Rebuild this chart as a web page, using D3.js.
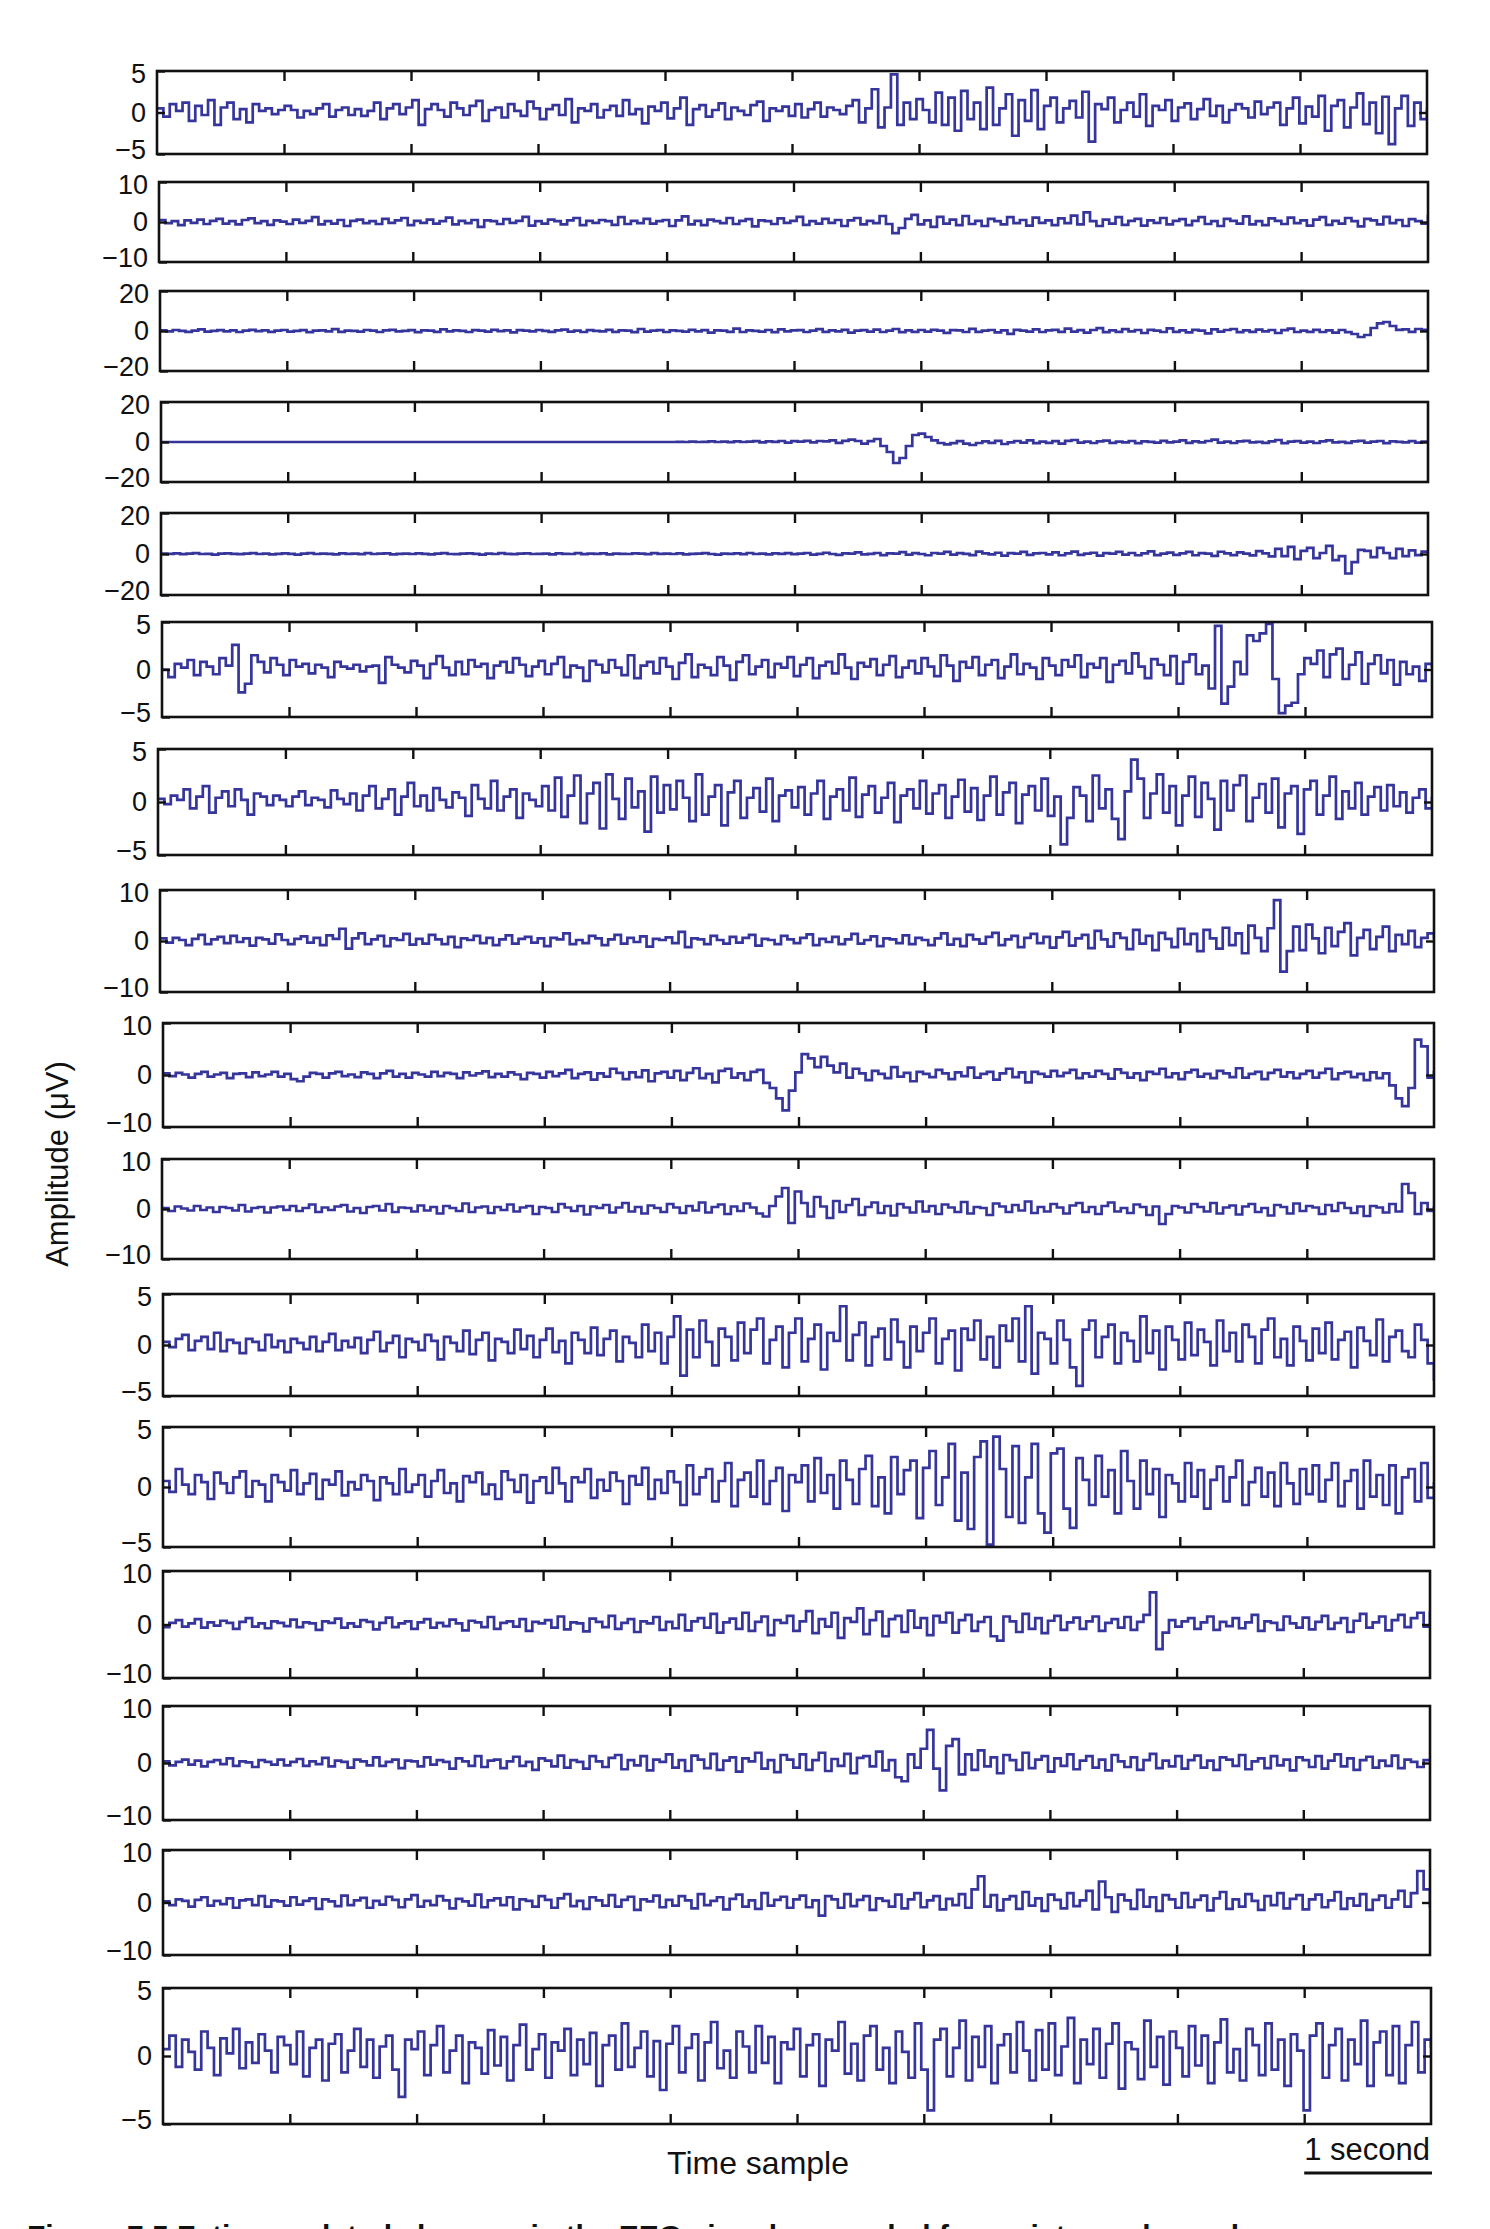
<!DOCTYPE html>
<html>
<head>
<meta charset="utf-8">
<script src="https://cdn.jsdelivr.net/npm/d3@7"></script>
<style>
  html, body { margin: 0; padding: 0; background: #ffffff; overflow: hidden; }
  svg { display: block; }
  text { font-family: "Liberation Sans", Arial, Helvetica, sans-serif; fill: #111; }
</style>
</head>
<body>
<script>
// ---------------- DATA ----------------
const seconds = 10;
const yLimits = [5, 10, 20, 20, 20, 5, 5, 10, 10, 10, 5, 5, 10, 10, 10, 5];
const xTickSeconds = [1, 2, 3, 4, 5, 6, 7, 8, 9];
const yAxisTitle = "Amplitude (\u03BCV)";
const xAxisTitle = "Time sample";
const scaleBarLabel = "1 second";
const captionText = "Figure 7.5   Fatigue-related changes in the EEG signals recorded from sixteen channels";

const ch01 = [0.5,-0.5,1,0.2,1.2,-1,0.8,-0.3,1.5,-1.5,0.6,1.2,-0.8,0.4,-1.2,1,0.2,0.5,-0.2,0.3,
0.8,0.3,-0.6,0.2,-0.2,0.5,1,-0.5,0.3,0.6,-0.3,0.4,-0.4,0.2,1.2,-0.8,0.5,1,-0.2,0.6,
1.5,-1.5,0.4,1,0.3,-0.5,1.2,0.5,-0.3,0.8,1.4,-1,0.3,0.6,-0.6,1,0.2,-0.4,1.3,0.5,
-0.8,0.4,0.9,-0.3,1.6,-1.2,0.5,0.2,1,-0.6,0.3,0.8,-0.4,1.5,-0.2,0.4,-1.3,0.7,0.2,1.2,
-0.7,0.5,1.8,-1.5,0.4,0.9,-0.5,0.3,1.1,-0.8,0.6,0.2,-0.3,0.9,1.3,-1,0.5,0.2,0.7,-0.4,
1,-0.6,0.4,1.2,-0.5,0.6,0.3,-0.2,0.8,1.5,-1.2,0.5,2.8,-1.8,0.6,4.6,-1.5,1.2,-0.8,1.6,
0.3,-1.2,2.4,-1.5,1.8,-2.2,2.6,-0.8,1.2,-2,3,-1.5,0.5,2.2,-2.8,1.5,-1,2.7,-2,0.8,
1.8,-1.2,0.5,1.4,-0.6,2.5,-3.5,1,0.4,1.8,-1.2,0.3,1.2,-0.5,2.2,-1.6,0.8,0.3,1.5,-1,
0.6,1.1,-0.8,0.4,1.6,-0.4,0.8,-1.2,0.3,1,0.5,-0.6,1.3,-0.2,0.6,1.2,-1.5,0.5,1.8,-1.3,
0.7,-0.5,2,-2.2,0.8,1.5,-1.8,0.6,2.3,-1.4,1.2,-2.5,1.9,-3.8,0.5,2,-1.6,1.2,-0.8,0.4];

const ch02 = [0.5,-0.3,0.2,-0.8,0.4,-0.2,0.6,-0.5,0.3,0.8,-0.4,0.2,-0.6,0.5,0.9,-0.3,0.2,-0.7,0.4,0.1,
-0.5,0.6,-0.2,0.3,1.2,-0.6,0.2,-0.4,0.5,-1,0.3,0.6,-0.3,0.2,-0.5,0.8,-0.2,0.4,1,-0.8,
0.3,-0.2,0.6,-0.4,0.2,1.1,-0.6,0.3,-0.3,0.5,-1.2,0.4,0.2,-0.5,0.7,-0.2,0.3,1.3,-0.9,0.2,
-0.4,0.6,0.2,-0.6,0.4,1,-0.8,0.3,-0.2,0.5,0.2,-0.7,1.2,-0.5,0.3,-0.3,0.8,-0.4,0.2,0.5,
-1,0.4,1.4,-0.6,0.3,-0.8,0.6,0.2,-0.3,1,-0.5,0.3,0.7,-1.1,0.4,0.2,-0.5,0.9,-0.2,0.3,
1.3,-0.7,0.2,-0.4,0.8,-0.2,0.5,-1,0.4,1,-0.6,0.3,-0.3,1.5,-0.5,-2.8,-1.5,0.8,1.8,-0.6,
0.4,-1.2,1.3,-0.4,0.6,-0.8,1.5,-0.5,0.3,-1,0.8,0.2,-0.6,1.2,-0.3,0.5,-0.9,1.1,-0.2,0.4,
-0.8,0.9,-0.3,1.6,-0.6,2.4,0.2,-1,0.6,-0.4,1.2,-0.7,0.3,0.8,-0.9,0.4,-0.2,1,-0.6,0.3,
0.7,-0.8,0.3,1.2,-0.5,0.2,-1,0.8,0.3,-0.4,1.4,-0.6,0.2,-0.8,0.9,0.3,-0.5,1.1,-0.3,0.4,
-0.9,0.6,1.2,-0.7,0.3,-0.4,1,0.2,-1.1,0.8,0.4,-0.6,1.3,-0.3,0.5,-1,0.7,0.2,-0.4,1.8];

const ch03 = [0.3,-0.2,0.5,0.1,-0.4,0.2,0.8,-0.3,0.1,0.4,-0.2,0.3,-0.5,0.2,0.6,-0.1,0.3,-0.4,0.2,0.5,
-0.3,0.1,0.4,-0.6,0.2,0.3,-0.2,0.9,-0.4,0.2,0.1,-0.3,0.5,0.2,-0.5,0.3,0.6,-0.2,0.1,0.4,
-0.6,0.3,0.2,-0.4,0.8,-0.2,0.3,0.1,-0.5,0.4,0.2,-0.3,0.6,-0.1,0.3,-0.7,0.4,0.2,-0.2,0.5,
0.1,-0.4,0.3,0.7,-0.3,0.2,-0.5,0.4,0.1,-0.2,0.6,-0.4,0.3,0.2,-0.6,1,-0.3,0.2,0.4,-0.5,
0.3,0.1,-0.3,0.6,-0.2,0.4,-0.8,0.3,0.2,-0.4,1.2,-0.5,0.3,0.1,-0.3,0.5,-0.6,0.8,-0.2,0.3,
0.4,-0.5,0.2,0.9,-0.4,0.3,-0.2,0.6,-0.8,0.2,0.4,-0.3,0.7,-0.5,0.2,1,-0.6,0.3,-0.4,0.5,
-0.3,0.6,0.2,-0.9,0.4,0.3,-0.5,1.1,-0.4,0.2,0.5,-0.7,0.3,-1.4,0.6,0.2,-0.3,0.8,-0.5,0.3,
0.6,-0.4,1.2,-0.3,0.4,-0.8,0.5,1.4,-0.6,0.3,-0.4,0.9,-0.2,0.5,-1,0.6,0.2,-0.5,1.3,-0.4,
0.3,-0.7,0.6,0.2,-1.2,0.8,-0.3,0.5,1,-0.6,0.3,-0.4,0.7,-0.2,0.5,-1,0.4,1.2,-0.5,0.2,
-0.4,0.6,-0.5,0.3,-0.8,0.5,-0.6,-1.5,-3,-2,1.5,3.8,4.5,2.5,0.6,0.8,-0.4,1,0.6,-4.5];

const ch04 = [0,0,0,0,0,0,0,0,0,0,0,0,0,0,0,0,0,0,0,0,
0,0,0,0,0,0,0,0,0,0,0,0,0,0,0,0,0,0,0,0,
0,0,0,0,0,0,0,0,0,0,0,0,0,0,0,0,0,0,0,0,
0,0,0,0,0,0,0,0,0,0,0,0,0,0,0,0,0,0,0,0,
0,0.1,0,0.2,0,0.1,0.3,0,0.2,-0.1,0.3,0,0.2,0.4,-0.2,0.3,0.1,0.5,-0.3,0.4,
0.2,0.6,-0.2,0.5,0.3,0.8,-0.4,0.6,1.2,0.5,-0.8,0.4,1.5,-2,-5,-10.5,-8,-2,3.5,4.2,
2.5,0.8,-0.5,-1.2,-0.6,0.4,-0.8,-1.5,-0.5,0.3,-0.4,0.6,-1,-0.2,0.5,-0.3,0.8,-0.6,0.2,-0.4,
0.4,-0.8,0.6,1,-0.3,0.2,-0.5,0.3,0.7,-0.4,0.2,-0.2,0.5,-0.6,0.3,0.1,-0.3,0.6,-0.2,0.2,
0.8,-0.4,0.3,-0.2,0.5,1.2,-0.3,0.2,-0.5,0.3,0.6,-0.2,0.1,-0.4,0.3,1,-0.6,0.2,0.4,-0.3,
0.2,-0.5,0.3,0.8,-0.2,0.1,-0.4,0.3,0.6,-0.3,0.2,0.5,-0.6,0.3,0.1,-0.2,0.4,-0.3,0.2,0.3];

const ch05 = [0.2,0.1,0.3,-0.1,0.2,0.4,0,0.1,-0.3,0.2,0.3,0.1,-0.1,0.2,0.4,0,0.2,-0.2,0.1,0.3,
0.1,-0.3,0.2,0.4,0,0.2,0.1,-0.2,0.3,0.1,0.2,-0.1,0.4,0,0.2,0.3,-0.2,0.1,0.2,0,
0.3,0.1,-0.2,0.2,0.4,0,-0.1,0.2,0.3,0.1,-0.3,0.2,0,0.4,0.1,-0.1,0.2,0.3,0,0.1,
0.2,-0.2,0.3,0.1,0,0.4,-0.1,0.2,0.1,0.3,-0.2,0.2,0.1,0,0.3,0.2,-0.1,0.4,0.1,0.2,
0,0.3,-0.2,0.1,0.2,0.4,0,-0.3,0.2,0.1,0.3,-0.1,0.5,0,0.2,-0.2,0.3,0.1,0.4,-0.1,
0.2,0.5,-0.3,0.1,0.6,0,-0.4,0.3,0.2,0.8,-0.2,0.1,0.5,-0.5,0.3,0.2,0.9,-0.3,0.4,0,
-0.6,0.5,0.2,1,-0.3,0.4,0.1,-0.5,1.2,0.3,-0.2,0.6,-0.8,0.4,0.2,1,-0.4,0.3,0.5,-0.2,
0.8,-0.6,0.3,1.2,-0.4,0.2,0.6,-0.8,0.4,0.2,1,-0.3,0.5,-0.6,0.3,1.3,-0.5,0.2,0.7,-0.4,
0.3,1,-0.6,0.4,0.2,-0.9,1.1,0.3,-0.5,0.8,0.2,-0.7,1.4,0.3,-1.2,2.5,-1,3.5,-2.5,1.5,
3,-2,0.5,4,-3,-1,-9.5,-4,2,1.5,-1.5,3,0.5,-2,2.5,-1,1.8,-0.5,1.2,0.6];

const ch06 = [0,-0.8,0.6,0.2,1,-0.6,0.8,0.3,-0.5,1.2,0.4,2.6,-2.4,-1.5,1.5,0.8,-0.3,1.2,0.5,-0.6,
1,0.3,0.6,-0.4,0.5,0.2,-0.8,0.8,0.3,0.1,0.5,-0.2,0.3,0.4,-1.4,1.3,0.5,0.2,-0.3,0.9,
0.4,-0.9,0.6,1.4,0.2,-0.6,0.8,-0.5,1,0.3,0.6,-0.9,0.4,0.8,-0.3,1.2,0.5,-0.7,0.3,0.9,
-0.5,0.6,1.3,-0.8,0.4,0.2,-1.2,0.9,0.5,-0.3,1,0.2,-0.6,1.5,-0.9,0.4,0.8,-0.4,1.2,0.3,
-1,0.7,1.6,-0.8,0.5,0.2,-0.6,1.3,0.4,-1.1,0.8,1.5,-0.5,0.3,1,-0.8,0.6,0.2,1.3,-0.7,
0.5,1.2,-0.9,0.4,0.8,-0.4,1.6,0.2,-1,0.7,0.3,1.1,-0.6,0.5,1.4,-0.8,0.2,0.9,-0.4,1.2,
0.3,-0.7,1.5,0.4,-1.2,0.8,0.2,1.3,-0.6,0.5,1,-0.9,0.3,1.6,-0.5,0.6,0.2,-1,1.2,0.4,
-0.6,1,0.3,1.5,-0.8,0.6,0.2,1.2,-1.3,0.5,0.9,-0.4,1.7,0.3,-0.9,1.1,0.5,-0.6,1.4,-1.5,
0.8,1.6,-0.5,0.4,-2,4.6,-3.6,-1.8,0.8,-0.5,3.6,3,3.8,4.8,-1,-4.6,-3.8,-3.5,-0.5,1.2,
0.6,2,-0.8,1.6,2.2,-1,0.5,1.8,-1.5,0.6,1.5,-0.4,1,-1.6,0.8,-0.5,0.3,-1.2,0.6,0.2];

const ch07 = [0.3,-0.2,0.6,0.2,1.2,-0.6,0.5,1.5,-1,0.4,1,-0.4,1.2,0.2,-1.2,0.8,0.5,-0.3,0.6,0.2,
-0.4,0.5,1,-0.3,0.4,0.2,-0.5,1.1,0.3,-0.2,0.8,-0.8,0.6,1.5,-0.6,0.3,1.2,-1.2,0.5,1.8,
-0.4,0.6,-0.8,1.3,0.2,-0.5,0.9,0.4,-1.3,1.6,0.3,-0.6,2,-0.8,0.5,1.2,-1.5,0.8,0.2,-0.4,
1.5,-0.8,2.3,-1.4,0.6,2.5,-2,0.8,1.8,-2.5,2.6,0.3,-1.6,2.2,-0.5,1,-2.8,2.4,-1,1.6,
-0.7,2,0.4,-1.8,2.6,-1.2,0.5,1.6,-2.2,0.9,2,-1.5,0.4,1.3,-0.9,2.2,-1.8,0.6,1.1,-0.5,
1.4,-1.2,0.8,2,-1.6,0.5,1.2,-0.8,2.3,-1.4,0.7,1.5,-1,0.4,1.8,-1.9,0.6,1.2,-0.6,2,
-1.1,0.8,1.6,-1.5,0.5,2.1,-0.9,1.3,-1.7,0.6,2.4,-1.2,0.9,1.8,-2,0.7,1.5,-0.8,2.2,-1.3,
0.5,-4,-1.5,1.4,0.6,-1.8,2.5,-0.6,1.2,-1.6,-3.5,1,4,2.2,-1.5,0.8,2.6,-1,1.5,-2.2,
0.6,2.4,-1.4,1.8,0.3,-2.6,2,-0.8,1.6,2.5,-1.8,0.4,1.7,-1,2.2,-2.4,0.8,1.5,-3,1.2,
2,-1.2,0.6,2.4,-1.6,1,-0.6,1.8,-1.2,0.5,1.4,-0.8,1.6,-0.4,0.9,-1,0.4,1.2,-0.6,0.5];

const ch08 = [0.5,-0.3,0.6,0.2,-0.8,0.4,1.2,-0.6,0.3,0.8,-0.4,1,-0.2,0.5,-0.9,0.6,0.3,-0.5,1.3,0.2,
-0.6,0.4,0.9,-0.3,0.6,-0.8,1.1,0.4,2.4,-1.5,0.5,1.5,-0.6,0.3,1,-1,0.5,0.2,1.4,-0.7,
0.4,-0.5,1.2,0.3,-0.6,0.8,-1.2,0.5,0.2,1,-0.4,0.6,-0.8,0.3,1.1,-0.5,0.4,0.8,-0.3,0.5,
-1,0.6,0.3,1.5,-0.6,0.2,-0.4,1,0.5,-0.8,0.3,1.2,-0.5,0.6,-0.2,0.9,-1.1,0.4,0.2,0.7,
-0.4,1.8,-1.2,0.5,0.3,-0.6,1,0.2,-0.5,0.8,-0.3,0.6,1.2,-0.9,0.4,0.2,-0.6,1,0.3,-0.4,
0.6,1.3,-0.8,0.4,-0.2,0.8,-0.6,0.3,1.4,-0.5,0.2,0.9,-1,0.5,0.3,-0.4,1.1,-0.6,0.6,0.2,
-0.8,0.5,1.5,-0.7,0.4,-1,1.2,0.3,-0.5,0.8,1.6,-0.8,0.3,1,-1.2,0.6,1.4,-0.4,0.8,-1.3,
0.7,1.8,-0.9,0.5,1.2,-1.4,2,0.3,-1.1,1.5,0.6,-1.6,2.2,-0.5,1,-1.8,1.6,0.4,-1.2,2.4,
-0.6,1.4,-2,2.2,0.5,-1.5,2.6,-0.8,1.5,-2.4,3,0.6,-2,2.5,8,-6,-2,2.8,-1.8,3.2,
0.5,-2.4,2.6,-1,1.8,3.5,-2.8,0.6,2.2,-1.6,0.8,2.8,-2,1.2,-0.6,2,-1.2,0.6,1.5,0.4];

const ch09 = [0.3,-0.2,0.4,0.1,-0.5,0.2,0.6,-0.3,0.1,0.4,-0.6,0.2,0.3,-0.4,0.5,-0.2,0.1,0.6,-0.3,0.2,
-0.8,-1.2,-0.3,0.4,0.2,-0.5,0.3,0.6,-0.2,0.1,-0.4,0.5,0.2,-0.6,0.3,0.8,-0.3,0.2,-0.5,0.4,
0.1,-0.3,0.6,-0.2,0.4,0.2,-0.6,0.5,-0.1,0.3,0.7,-0.4,0.2,-0.3,0.5,0.1,-0.8,0.4,0.2,-0.5,
0.6,-0.2,0.3,1,-0.6,0.2,0.5,-0.9,0.3,-0.3,1.2,0.4,-0.8,0.5,-0.4,0.9,-1.2,0.3,0.6,-0.5,
0.8,-1,0.4,1.3,-0.6,0.2,-1.4,0.8,1.2,-0.5,0.3,-1,0.6,1,-1.5,-2.5,-4.5,-6.8,-3,0.5,
4,3.2,1.5,3.5,1.8,0.5,2.2,-0.5,1.2,0.3,-1,0.8,0.2,-0.6,1.5,-0.3,0.4,-1.2,0.6,0.2,
-0.4,1,0.3,-0.8,0.5,-0.2,1.4,-0.5,0.2,0.6,-0.9,0.3,1.2,-0.4,0.5,-1.4,0.6,0.2,-0.3,0.8,
-0.2,0.4,1,-0.6,0.3,-0.3,0.8,0.2,-0.7,1.1,0.4,-0.5,0.3,-1,0.6,0.2,1.2,-0.4,0.3,-0.8,
0.5,1,-0.3,0.2,-0.6,0.8,0.3,-0.4,1.3,-0.5,0.2,0.6,-0.8,0.4,1,-0.3,0.5,-0.6,0.2,0.8,
-0.5,0.4,1.2,-0.8,0.3,0.6,-0.4,0.2,-1,0.5,-0.6,0.3,-2,-4.5,-6,-2.5,6.8,5.5,-0.5,0.8];

const ch10 = [0.2,-0.4,0.5,0.1,-0.3,0.6,-0.2,0.3,-0.6,0.4,0.2,-0.3,0.8,-0.5,0.2,0.4,-0.7,0.3,0.5,-0.2,
0.6,-0.4,0.2,0.9,-0.6,0.3,-0.2,0.5,0.8,-0.5,0.2,-0.8,0.4,0.6,-0.3,1,-0.6,0.3,0.2,-0.5,
0.7,-0.3,0.4,-0.9,0.6,0.2,-0.4,1.1,-0.6,0.3,0.5,-0.8,0.4,-0.2,0.9,-0.5,0.3,0.6,-1,0.4,
0.2,-0.6,1,0.3,-0.4,0.6,-1.1,0.5,0.2,0.8,-0.7,0.3,1.2,-0.5,0.4,-0.9,0.7,0.2,-0.6,1,
0.3,-0.8,0.6,-0.3,1.3,-0.7,0.4,0.9,-1,0.5,-0.4,1.1,0.3,-0.9,-1.5,0.6,2.5,4.2,-2.8,3.5,
1.2,-1.5,2.4,0.5,-1.8,1.6,-0.6,0.8,2,-1.2,0.4,1.3,-0.8,0.6,-1.3,1,0.3,-0.7,1.5,-0.5,
0.6,-1,0.9,0.3,-0.6,1.4,-0.9,0.4,0.2,-1.2,1.1,0.5,-0.6,0.8,-0.3,1.5,-0.8,0.4,-0.5,1,
0.3,-0.9,0.7,1.2,-0.6,0.4,-1,0.6,1.3,-0.5,0.2,-0.8,0.9,0.4,-1.2,0.5,-3,-1,0.6,0.3,
-0.7,1,0.4,-0.5,1.2,-0.9,0.3,0.7,-1.1,0.5,1,-0.6,0.2,-1.3,0.8,0.4,-0.9,1.1,-0.4,0.6,
0.3,-1,0.8,-0.4,1.2,0.2,-0.8,0.5,-1.4,0.6,0.3,-0.7,1,-0.5,5,3.2,-1,1.2,-0.4,0.6];

const ch11 = [0.3,-0.2,0.6,1,-0.5,0.4,0.8,-0.4,1.2,-0.6,0.5,0.2,-0.8,0.6,0.3,-0.5,1,-0.2,0.4,-0.7,
0.6,0.2,-0.4,0.8,-0.6,0.3,1.1,-0.5,0.4,-0.2,0.7,-0.8,0.5,1.3,-0.6,0.2,0.9,-1.2,0.6,0.3,
-0.5,1,0.4,-1.4,0.8,0.2,-0.6,1.4,-0.9,0.5,1.2,-1.5,0.6,0.3,-0.8,1.5,-0.4,0.9,-1.2,0.5,
1.6,-0.7,0.4,-1.8,1.2,0.5,-0.8,1.7,-1,0.6,1.4,-1.6,0.8,0.2,-1.2,2,-0.6,1.2,-1.8,0.8,
2.8,-3,1.5,-1.2,2.4,0.3,-2,1.6,0.8,-1.5,2.2,-0.8,1.5,2.6,-1.8,0.5,1.8,-2.2,1.2,2.6,
-1.6,0.6,2,-2.4,1.2,0.4,3.8,-1.5,1,2.2,-2,0.8,1.6,-1.4,2.5,0.3,-2.2,1.8,-0.6,1.2,
2.6,-1.8,0.6,1.4,-2.5,1.6,0.5,2.4,-1.4,0.8,-2.2,1.9,0.4,2.6,-1.6,3.8,-2.8,1.2,0.6,-1.8,
2.4,0.5,-2.2,-4,1.5,2.4,-1.2,0.8,2,-1.8,1.2,0.4,-1.6,2.8,-0.8,1.4,-2.4,1.8,0.5,-1.4,
2.2,-1,1.5,0.3,-2,2.4,-0.6,1.2,-1.6,2,0.8,-1.8,1.5,2.6,-1.2,0.6,-2,1.8,0.4,-1.5,
1.6,-0.8,2.2,-1.4,0.5,1.3,-2.2,1.7,0.4,-1,2.5,-1.6,0.8,1.4,-0.6,-1.2,2,0.5,-1.8,-3.5];

const ch12 = [0.5,-0.4,1.5,0.2,-0.6,1,0.4,-1,1.2,0.3,-0.5,0.8,1.3,-0.8,0.5,0.2,-1.2,1,0.4,-0.3,
1.4,-0.6,0.3,1.1,-1,0.6,0.2,1.3,-0.7,0.4,-0.2,1,0.5,-1.1,0.8,0.3,-0.6,1.5,-0.4,0.2,
1,-0.8,0.5,1.4,-0.5,0.3,-1.2,0.9,0.4,1.2,-0.6,0.2,-1,1.3,0.6,-0.4,1,-1.3,0.5,0.8,
-0.5,1.6,0.3,-1.2,0.8,0.4,1.5,-0.9,0.6,-0.3,1.2,0.5,-1.4,0.9,0.2,1.6,-1,0.6,-0.5,1.3,
0.4,-1.5,1.8,-0.6,0.8,1.5,-1.2,0.5,2,-1.6,0.6,1.2,-0.8,2.2,-1.4,0.5,1.6,-2,1,0.4,
1.8,-1.2,2.4,-0.5,1,-1.8,2.2,0.6,-1.4,1.5,2.6,-1.6,0.8,-2.2,2.5,-0.6,1.4,2.2,-2.6,1.6,
3,-1.5,0.8,3.6,-2.8,1.2,-3.5,2.5,3.8,-4.8,4.2,1.5,-2.5,3.4,-3,0.8,3.6,-2.2,-3.8,2.8,
3.2,-1.8,-3.4,2.4,0.6,-1.5,2.6,-0.8,1.4,-2.2,3,0.5,-1.8,2.2,-0.6,1.5,-2.5,1,0.3,-1.2,
2,-0.8,1.4,-1.8,0.6,1.7,-1.2,0.8,2.2,-1.5,0.4,1.6,-0.8,1.2,-1.6,2,0.3,-1.4,1.5,-0.6,
1.8,-1.2,0.6,2,-1.6,0.5,1.4,-1.8,2.2,-0.8,1,-1.5,1.8,-2.2,0.8,1.5,-1.2,2,-0.9,0.4];

const ch13 = [-0.5,0.3,0.8,-0.4,0.2,1,-0.6,0.4,-0.2,0.7,0.3,-0.8,0.5,1.2,-0.4,0.2,-0.7,0.6,0.3,-0.3,
0.9,-0.5,0.4,0.2,-1,0.6,0.3,1.1,-0.6,0.2,-0.4,0.8,0.5,-0.9,0.3,1.3,-0.5,0.2,0.6,-0.8,
0.4,1,-0.6,0.3,-0.3,0.9,0.2,-1.1,0.7,0.4,-0.5,1.4,-0.8,0.3,0.6,-0.4,1,-1.2,0.5,0.2,
0.8,-0.6,1.5,-0.9,0.4,0.2,-1.3,1.1,0.5,-0.5,1.6,-0.8,0.3,1,-1.4,0.6,0.2,1.4,-1,0.5,
-0.7,1.8,-1.1,0.6,1.2,-0.6,2,-1.5,0.4,1.1,-0.8,2.2,-1.2,0.5,1.5,-2,0.8,0.3,1.6,-1.2,
0.6,2.5,-1.6,1,-0.4,2.2,-2.5,1.2,0.5,3,-1.8,0.8,2.4,-2.2,1,1.6,-1.4,2.6,-0.6,1.2,
-2,1.6,0.4,2.2,-1.5,0.8,1.8,-1.2,0.5,1.4,-2.2,-3,1.5,0.6,-1.4,2,-0.8,1.2,-1.6,0.7,
1.6,-1,0.4,1.3,-0.8,0.6,1.5,-1.2,0.3,1,-0.6,1.4,-1,0.5,1.8,6,-4.6,-1.5,0.8,-0.4,
0.6,1.2,-0.8,0.4,1.5,-1,0.5,-0.3,1.2,-0.7,0.4,1.8,-1.2,0.6,0.3,-1,1.5,0.2,-0.6,1.3,
-0.9,0.5,1.6,-0.8,0.3,1.2,-1.4,0.7,2,-0.6,0.4,1.5,-1.1,0.8,1.8,-0.5,1.2,2.2,-0.4,2.5];

const ch14 = [0.3,-0.4,0.2,0.6,-0.3,0.4,-0.6,0.2,0.5,-0.2,0.8,-0.5,0.3,0.1,-0.7,0.5,0.2,-0.3,0.6,-0.4,
0.2,0.7,-0.5,0.3,-0.2,0.9,-0.6,0.4,0.2,-0.8,0.6,0.3,-0.4,1,-0.5,0.2,0.6,-0.9,0.4,0.3,
-0.6,1,-0.3,0.5,0.2,-1,0.8,0.3,-0.5,1.2,-0.7,0.4,0.6,-0.9,0.3,1.1,-0.5,0.2,-1.2,0.8,
0.4,-0.6,1.3,-0.8,0.5,0.2,-1,1.2,0.3,-0.7,0.9,1.4,-1.1,0.5,-0.4,1.2,-1.3,0.6,0.2,1.5,
-0.8,0.5,-1.4,1.3,0.6,-0.9,1.6,-1.2,0.4,1,-1.5,0.8,0.3,1.8,-1,0.5,-1.6,1.4,0.6,-0.8,
1.5,-1.2,0.5,1.8,-1.4,0.7,-0.5,1.6,-1.8,0.9,1.2,-0.6,2,-1.3,0.5,-2.5,-3.2,1.5,-0.8,2.5,
5.8,-1,-4.8,3,4.2,-2,1.5,-1.2,2.2,-0.6,1,-1.8,1.4,0.5,-1.2,1.8,-0.9,0.6,1.2,-1.5,
0.8,-0.5,1.5,-1.1,0.4,1.2,-0.8,0.6,-1.3,1.4,0.3,-0.7,1,-1.2,0.5,1.6,-0.9,0.4,-0.6,1.2,
-1,0.5,1.3,-0.8,0.4,-1.2,1,0.6,-0.5,1.4,-1.1,0.3,0.8,-0.9,1.2,-0.4,0.6,-1.3,1,0.5,
-0.7,1.2,-1,0.4,1.5,-0.6,0.8,-1.2,0.5,1.1,-0.8,0.4,-0.5,1.3,-0.9,0.6,0.2,-0.7,0.5,0.3];

const ch15 = [0.2,-0.5,0.6,0.3,-0.8,0.5,1,-0.6,0.3,-0.3,0.8,-1,0.4,0.6,-0.5,1.2,-0.8,0.4,0.2,-0.6,
1,-0.4,0.3,0.8,-1.2,0.6,0.2,-0.7,1.3,-0.5,0.4,0.9,-1,0.3,-0.4,1.1,0.5,-0.9,0.6,1.4,
-0.8,0.3,-0.5,1.2,0.4,-1.1,0.7,0.2,-0.6,1.5,-0.9,0.4,0.8,-0.5,1,-1.3,0.6,0.3,-0.8,1.2,
0.5,-1,0.8,1.6,-0.7,0.3,-1.2,1,0.4,-0.6,1.4,-0.8,0.5,1.1,-1.4,0.6,0.2,1.3,-0.9,0.5,
-0.6,1.2,0.4,-1.1,1.6,-0.5,0.3,1,-1.3,0.7,1.5,-0.8,0.4,-1.2,1.8,-0.6,0.5,1.1,-1,0.6,
1.3,-0.9,0.4,-2.5,1.2,0.6,-1,1.6,-0.7,0.5,1.2,-1.4,0.8,0.3,-0.8,1.5,-1.1,0.6,1.8,-0.9,
0.4,1.2,-1.3,0.7,-0.5,1.6,-1,2.5,5,-0.8,1.4,-1.5,0.6,1.2,-1.2,2,-0.6,0.8,-1.6,1.5,
0.5,-1.1,1.8,-0.7,0.4,2.2,-1.3,4,1,-1.8,1.5,0.4,-1.2,2.4,-0.8,1,-1.6,1.4,0.6,-1,
1.8,-0.9,0.5,1.3,-1.5,0.8,2,-1.2,0.6,-0.8,1.6,0.3,-1.4,1.2,-0.5,1.8,-1.1,0.7,1.4,-1.3,
0.6,1.5,-0.9,0.4,2,-1.2,0.8,-0.6,1.6,-1.4,0.5,1.3,-1,0.6,2.2,-0.8,1.8,6,2.5,-1];

const ch16 = [0.5,1.5,-0.8,1.2,0.3,-1,1.8,0.6,-1.4,1.3,0.2,2,-0.9,1,-0.5,1.6,0.4,-1.2,1.4,0.8,
-0.6,1.8,-1.5,0.6,1.2,-1.8,0.9,1.6,-1.2,0.4,2,-0.8,1.2,-1.6,0.7,1.5,-1,-3,1.2,0.5,
1.8,-1.4,0.8,2.2,-1.2,0.4,1.5,-2,1,0.6,-1.3,1.9,-0.7,1.4,-1.8,0.8,2.3,-1,0.5,1.6,
-1.6,1,0.4,2,-1.4,1.2,-0.6,1.7,-2.2,0.8,1.5,-1,2.4,-0.8,0.6,1.8,-1.5,1.1,-2.5,0.9,
2.2,-1.2,0.6,1.6,-1.8,1,2.5,-0.9,0.4,-1.6,1.8,0.7,-1.2,2.2,-0.5,1.4,-2,1,0.5,2,
-1.5,0.8,1.6,-2.2,1.2,0.4,2.5,-1.3,0.9,-1.8,1.5,2.2,-1,0.6,-2,1.8,0.3,-1.6,2.4,-1,
-4,1.2,2,-1.5,0.6,2.6,-1.8,1.4,-0.8,2.2,-2,0.8,1.6,-1.2,2.5,0.4,-1.8,1.9,-1,2.4,
-1.4,0.7,2.8,-2,1.2,-0.6,2,-1.6,0.9,2.4,-2.4,1,0.5,-1.7,2.6,-0.8,1.4,-2.1,1.8,0.6,
-1.5,2.2,-0.7,1.5,-2,1,2.7,-1.2,0.5,-1.8,2,0.8,-1.4,2.4,-1,1.2,-2.2,1.6,0.4,-4,
1.5,2.4,-1.6,0.8,2,-1.8,1.2,-0.6,2.6,-2.2,1,1.8,-1.4,2.2,-2,0.8,2.5,-1.2,1.2,0.6];

const channels = [ch01, ch02, ch03, ch04, ch05, ch06, ch07, ch08,
                  ch09, ch10, ch11, ch12, ch13, ch14, ch15, ch16];

// ---------------- LAYOUT (page geometry, not data) ----------------
const W = 1490, H = 2229;
// [left, top, right, bottom] of each panel frame, following the scanned figure
const panelFrames = [
  [157, 71, 1427, 154], [159, 182, 1428, 262], [160, 291, 1428, 371], [161, 402, 1428, 482],
  [161, 513, 1428, 595], [162, 622, 1432, 717], [158, 749, 1432, 855], [160, 890, 1434, 992],
  [163, 1023, 1434, 1127], [162, 1159, 1434, 1259], [163, 1294, 1434, 1396], [163, 1427, 1434, 1547],
  [163, 1571, 1430, 1678], [163, 1706, 1430, 1820], [163, 1850, 1430, 1955], [163, 1988, 1431, 2124]
];
const traceColor = "#35359c";
const fontFamily = "Liberation Sans, Arial, Helvetica, sans-serif";

const svg = d3.select("body").append("svg")
  .attr("width", W).attr("height", H)
  .attr("viewBox", `0 0 ${W} ${H}`)
  .attr("font-family", fontFamily);

svg.append("rect").attr("width", W).attr("height", H).attr("fill", "#fff");

channels.forEach((values, i) => {
  const [L, T, R, B] = panelFrames[i];
  const lim = yLimits[i];
  const n = values.length;
  const x = d3.scaleLinear().domain([0, seconds]).range([L, R]);
  const y = d3.scaleLinear().domain([-lim, lim]).range([B, T]);
  const g = svg.append("g").attr("class", "panel");

  const clipId = "clip" + i;
  svg.append("clipPath").attr("id", clipId)
    .append("rect").attr("x", L).attr("y", T).attr("width", R - L).attr("height", B - T);

  const line = d3.line()
    .x((d, k) => x(k * seconds / (n - 1)))
    .y(d => y(d))
    .curve(d3.curveStepAfter);

  g.append("path")
    .datum(values)
    .attr("clip-path", `url(#${clipId})`)
    .attr("fill", "none")
    .attr("stroke", traceColor)
    .attr("stroke-width", 2.7)
    .attr("stroke-linejoin", "miter")
    .attr("d", line);

  // inward ticks, top and bottom
  const axB = g.append("g").attr("transform", `translate(0,${B})`)
    .call(d3.axisBottom(x).tickValues(xTickSeconds).tickSize(-10).tickFormat(""));
  const axT = g.append("g").attr("transform", `translate(0,${T})`)
    .call(d3.axisTop(x).tickValues(xTickSeconds).tickSize(-10).tickFormat(""));
  const axL = g.append("g").attr("transform", `translate(${L},0)`)
    .call(d3.axisLeft(y).tickValues([-lim, 0, lim]).tickSize(-8).tickPadding(11)
      .tickFormat(d3.format("d")));
  const axR = g.append("g").attr("transform", `translate(${R},0)`)
    .call(d3.axisRight(y).tickValues([0]).tickSize(-8).tickFormat(""));
  [axB, axT, axL, axR].forEach(a => {
    a.select(".domain").remove();
    a.selectAll(".tick line").attr("stroke", "#111").attr("stroke-width", 2.4);
  });
  axL.selectAll(".tick text")
    .attr("font-family", fontFamily)
    .attr("font-size", 27)
    .attr("fill", "#111")
    // as in the figure, the end labels sit slightly inside the frame
    .attr("y", d => d === lim ? 3 : (d === -lim ? -4 : 0));

  // frame
  g.append("rect")
    .attr("x", L).attr("y", T).attr("width", R - L).attr("height", B - T)
    .attr("fill", "none").attr("stroke", "#111").attr("stroke-width", 2.6);
});

// y-axis title
svg.append("text")
  .attr("transform", "translate(68,1164) rotate(-90)")
  .attr("text-anchor", "middle")
  .attr("font-size", 31)
  .text(yAxisTitle);

// x-axis title
svg.append("text")
  .attr("x", 758).attr("y", 2174)
  .attr("text-anchor", "middle")
  .attr("font-size", 32)
  .text(xAxisTitle);

// scale bar: one second of the last panel
{
  const [L, , R] = panelFrames[15];
  const xs = d3.scaleLinear().domain([0, seconds]).range([L, R]);
  svg.append("text")
    .attr("x", xs(seconds) - 1).attr("y", 2160)
    .attr("text-anchor", "end")
    .attr("font-size", 31)
    .text(scaleBarLabel);
  svg.append("line")
    .attr("x1", xs(seconds - 1)).attr("x2", xs(seconds) + 1)
    .attr("y1", 2173).attr("y2", 2173)
    .attr("stroke", "#111").attr("stroke-width", 3);
}

// caption (cut by the page edge in the original, only the tops of its letters show)
svg.append("text")
  .attr("x", 27).attr("y", 2246)
  .attr("font-size", 30)
  .attr("font-weight", "bold")
  .text(captionText);
</script>
</body>
</html>
